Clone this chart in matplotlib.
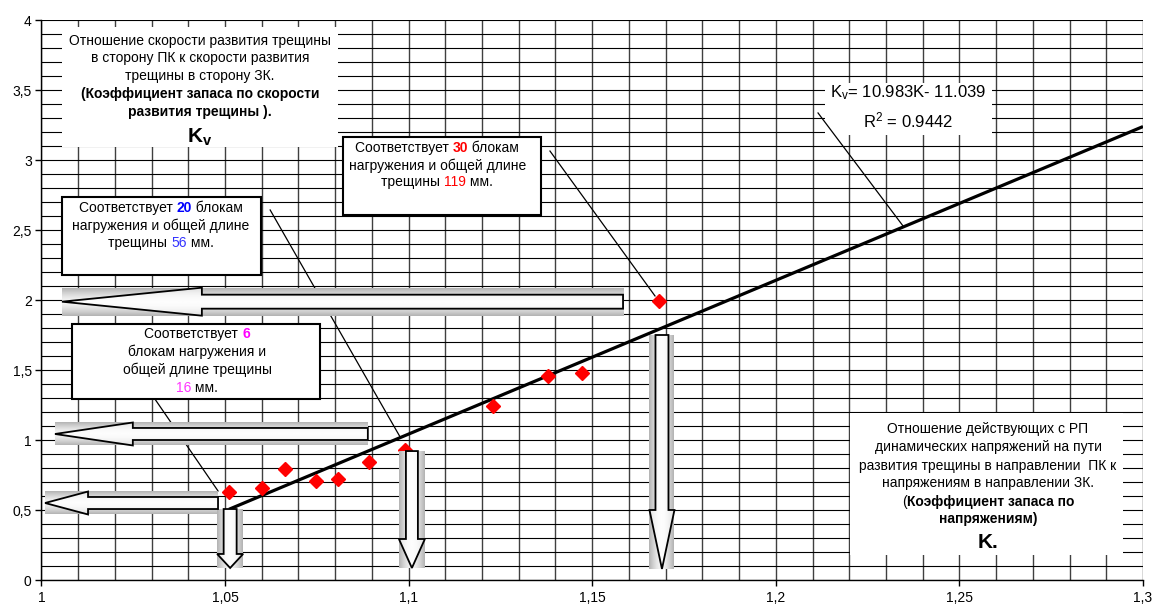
import numpy as np
import matplotlib
matplotlib.use("Agg")
import matplotlib.pyplot as plt
from matplotlib.patches import Polygon, Rectangle
from matplotlib.ticker import MultipleLocator, FuncFormatter
from matplotlib.offsetbox import TextArea, HPacker, AnnotationBbox

plt.rcParams['font.family'] = ['Liberation Sans', 'DejaVu Sans']
plt.rcParams['mathtext.fontset'] = 'custom'
plt.rcParams['mathtext.rm'] = 'Liberation Sans'
plt.rcParams['mathtext.it'] = 'Liberation Sans:italic'
plt.rcParams['mathtext.bf'] = 'Liberation Sans:bold'

# коэффициент запаса по напряжениям K и по скорости развития трещины Kv
K = [1.0511, 1.0601, 1.0663, 1.0748, 1.0808, 1.0892, 1.0990, 1.1230, 1.1380, 1.1472, 1.1682]
Kv = [0.63, 0.66, 0.79, 0.71, 0.72, 0.84, 0.93, 1.24, 1.46, 1.48, 1.99]
slope, intercept, r2 = 10.983, -11.039, 0.9442

x_ticks = [1, 1.05, 1.1, 1.15, 1.2, 1.25, 1.3]
y_ticks = [0, 0.5, 1, 1.5, 2, 2.5, 3, 3.5, 4]

fig = plt.figure(figsize=(11.57, 6.06), dpi=100)
ax = fig.add_axes([41.4 / 1157, 26 / 606, (1143 - 41.4) / 1157, 560 / 606])
ax.set_xlim(1, 1.3)
ax.set_ylim(0, 4)

comma = FuncFormatter(lambda v, p: f"{v:g}".replace('.', ','))
ax.set_xticks(x_ticks)
ax.set_yticks(y_ticks)
ax.xaxis.set_major_formatter(comma)
ax.yaxis.set_major_formatter(comma)
ax.xaxis.set_minor_locator(MultipleLocator(0.01))
ax.yaxis.set_minor_locator(MultipleLocator(0.1))
ax.tick_params(which='major', direction='out', length=4, width=1, labelsize=10)
ax.tick_params(axis='x', which='major', pad=4)
ax.tick_params(axis='y', which='major', pad=3)
ax.tick_params(which='minor', length=0)
ax.xaxis.grid(True, which='both', color='#404040', lw=1.0, zorder=0)
ax.yaxis.grid(True, which='both', color='black', lw=0.8, zorder=0)
ax.set_axisbelow(True)
for s in ['top', 'right']:
    ax.spines[s].set_visible(False)
for s in ['left', 'bottom']:
    ax.spines[s].set_linewidth(1.0)

TXT = 10


def white_box(x0, y0, x1, y1, edge=False, z=2):
    ax.add_patch(Rectangle((x0, y0), x1 - x0, y1 - y0, facecolor='white',
                           edgecolor='black' if edge else 'none', lw=1.5, zorder=z))


def rich(x, y, parts, size=TXT, z=7):
    areas = []
    for p in parts:
        txt = p[0]
        col = p[1] if len(p) > 1 else 'black'
        bold = p[2] if len(p) > 2 else False
        areas.append(TextArea(txt, textprops=dict(color=col, fontsize=size,
                                                  fontweight='bold' if bold else 'normal')))
    pack = HPacker(children=areas, align='baseline', pad=0, sep=0)
    ab = AnnotationBbox(pack, (x, y), xycoords='data', frameon=False,
                        box_alignment=(0.5, 0.5), pad=0, zorder=z)
    ax.add_artist(ab)


def block_arrow(tail, tip, body, head, head_len):
    # полый стрелочный указатель с серой подложкой
    (x0, y0), (x1, y1) = tail, tip
    if y0 == y1:
        d = np.sign(x1 - x0)
        hb = x1 - d * head_len
        verts = [(x0, y0 - body), (hb, y0 - body), (hb, y0 - head), (x1, y1),
                 (hb, y0 + head), (hb, y0 + body), (x0, y0 + body)]
        ext = [min(x0, x1), max(x0, x1), y0 - head, y0 + head]
        t = np.linspace(-1, 1, 64)[:, None] * np.ones((1, 2))
    else:
        d = np.sign(y1 - y0)
        hb = y1 - d * head_len
        verts = [(x0 - body, y0), (x0 - body, hb), (x0 - head, hb), (x1, y1),
                 (x0 + head, hb), (x0 + body, hb), (x0 + body, y0)]
        ext = [x0 - head, x0 + head, min(y0, y1), max(y0, y1)]
        t = np.ones((2, 1)) * np.linspace(-1, 1, 64)[None, :]
    shade = 0.96 - 0.26 * np.abs(t) ** 1.5
    ax.imshow(shade, cmap='gray', vmin=0, vmax=1, extent=ext, aspect='auto',
              interpolation='bilinear', origin='lower', zorder=5)
    fill = 0.99 - 0.12 * np.abs(t) ** 2
    poly = Polygon(verts, closed=True, facecolor='none', edgecolor='black', lw=1.3, zorder=5.5)
    im = ax.imshow(fill, cmap='gray', vmin=0, vmax=1, extent=ext, aspect='auto',
                   interpolation='bilinear', origin='lower', zorder=5.2)
    ax.add_patch(poly)
    im.set_clip_path(poly)


# линия тренда и экспериментальные точки
xs = np.array([min(K), 1.3])
ax.plot(xs, slope * xs + intercept, color='black', lw=2.3, zorder=3, solid_capstyle='butt')
ax.plot(K, Kv, linestyle='none', marker='D', color='red', markersize=7, zorder=4)

# выноски
for (xa, ya), (xb, yb) in [((1.2115, 3.336), (1.2349, 2.52)),
                           ((1.1385, 3.064), (1.1671, 2.029)),
                           ((1.0623, 2.643), (1.0977, 1.021)),
                           ((1.0309, 1.293), (1.0481, 0.636))]:
    ax.plot([xa, xb], [ya, yb], color='black', lw=0.9, zorder=2.5)

# стрелки к осям
block_arrow((1.1584, 1.988), (1.0056, 1.988), 0.05, 0.10, 0.0381)
block_arrow((1.0889, 1.043), (1.0037, 1.043), 0.043, 0.082, 0.0212)
block_arrow((1.0481, 0.550), (1.0010, 0.550), 0.043, 0.082, 0.0117)
block_arrow((1.0514, 0.507), (1.0514, 0.086), 0.00177, 0.00354, 0.10)
block_arrow((1.1009, 0.921), (1.1009, 0.086), 0.00163, 0.00354, 0.207)
block_arrow((1.1690, 1.750), (1.1690, 0.079), 0.00177, 0.00340, 0.421)

# подпись оси Kv
white_box(1.0056, 3.093, 1.0807, 3.95)
cx = 1.0432
rich(cx, 3.850, [("Отношение скорости развития трещины",)])
rich(cx, 3.729, [("в сторону ПК к скорости развития",)])
rich(cx, 3.600, [("трещины в сторону ЗК.",)])
rich(cx, 3.471, [("(Коэффициент запаса по скорости", 'black', True)])
rich(cx, 3.343, [("развития трещины ).", 'black', True)])
rich(cx, 3.164, [(r"K$_\mathbf{v}$", 'black', True)], size=15)

# подпись оси K
white_box(1.2202, 0.179, 1.2945, 1.193)
cx = 1.2578
rich(cx, 1.079, [("Отношение действующих с РП",)])
rich(cx, 0.950, [("динамических напряжений на пути",)])
rich(cx, 0.814, [("развития трещины в направлении  ПК к",)])
rich(cx, 0.693, [("напряжениям в направлении ЗК.",)])
rich(cx, 0.557, [("(",), ("Коэффициент запаса по", 'black', True)])
rich(cx, 0.436, [("напряжениям)", 'black', True)])
rich(cx, 0.271, [("K.", 'black', True)], size=15)

# уравнение тренда
white_box(1.2134, 3.179, 1.2589, 3.55)
rich(1.236, 3.479, [(r"K$_\mathrm{v}$= %.3fK- %.3f" % (slope, -intercept),)], size=12)
rich(1.236, 3.279, [(r"R$^2$ = %.4f" % r2,)], size=12)

# поясняющие рамки
white_box(1.0821, 2.607, 1.1360, 3.164, edge=True, z=6)
cx = 1.1078
rich(cx, 3.086, [("Соответствует ",), ("30", 'red', True), (" блокам",)])
rich(cx, 2.957, [("нагружения и общей длине",)])
rich(cx, 2.843, [("трещины ",), ("119", 'red'), (" мм.",)])

white_box(1.0056, 2.179, 1.0598, 2.736, edge=True, z=6)
cx = 1.0326
rich(cx, 2.657, [("Соответствует ",), ("20", '#0000ff', True), (" блокам",)])
rich(cx, 2.529, [("нагружения и общей длине",)])
rich(cx, 2.407, [("трещины ",), ("56", '#3333ff'), (" мм.",)])

white_box(1.0083, 1.293, 1.0759, 1.829, edge=True, z=6)
cx = 1.0424
rich(cx, 1.757, [("Соответствует ",), ("6", '#ff00ff', True)])
rich(cx, 1.629, [("блокам нагружения и",)])
rich(cx, 1.500, [("общей длине трещины",)])
rich(cx, 1.371, [("16", '#ff33ff'), (" мм.",)])

fig.savefig("out.png", dpi=100)
